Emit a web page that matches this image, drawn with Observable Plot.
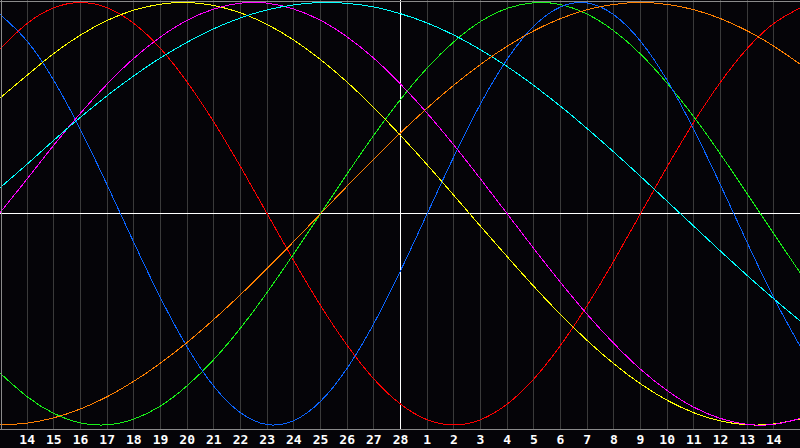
<!DOCTYPE html>
<html>
<head>
<meta charset="utf-8">
<script src="https://cdn.jsdelivr.net/npm/d3@7"></script>
<script src="https://cdn.jsdelivr.net/npm/@observablehq/plot@0.6"></script>
<style>
  html, body { margin: 0; padding: 0; background: #050408; }
  svg { display: block; }
</style>
</head>
<body>
<div id="chart"></div>
<script>
// Day index 0..30 across the chart, with calendar day labels
const days = [0,1,2,3,4,5,6,7,8,9,10,11,12,13,14,15,16,17,18,19,20,21,22,23,24,25,26,27,28,29,30];
const dayLabels = ["13","14","15","16","17","18","19","20","21","22","23","24","25","26","27","28",
                   "1","2","3","4","5","6","7","8","9","10","11","12","13","14","15"];
const todayIndex = 15;

// Series values (one per day)
const emotionalValues = [0.782,0.901,0.975,1.000,0.975,0.901,0.782,0.623,0.434,0.223,0,-0.223,-0.434,-0.623,-0.782,-0.901,
  -0.975,-1.000,-0.975,-0.901,-0.782,-0.623,-0.434,-0.223,0,0.223,0.434,0.623,0.782,0.901,0.975];
const intellectualValues = [-0.756,-0.866,-0.945,-0.990,-0.999,-0.972,-0.910,-0.814,-0.690,-0.541,-0.372,-0.189,0,0.189,0.372,0.541,
  0.690,0.814,0.910,0.972,0.999,0.990,0.945,0.866,0.756,0.618,0.459,0.282,0.095,-0.095,-0.282];
const physicalValues = [0.942,0.817,0.631,0.398,0.136,-0.136,-0.398,-0.631,-0.817,-0.942,-0.998,-0.979,-0.888,-0.731,-0.520,-0.270,
  0,0.270,0.520,0.731,0.888,0.979,0.998,0.942,0.817,0.631,0.398,0.136,-0.136,-0.398,-0.631];
const aestheticValues = [0.550,0.656,0.759,0.846,0.915,0.964,0.992,1.000,0.986,0.951,0.896,0.822,0.730,0.623,0.502,0.371,
  0.232,0.087,-0.059,-0.203,-0.344,-0.477,-0.600,-0.710,-0.805,-0.883,-0.942,-0.981,-0.999,-0.995,-0.971];
const intuitiveValues = [0.008,0.165,0.325,0.476,0.614,0.736,0.837,0.916,0.969,0.997,0.997,0.969,0.916,0.837,0.736,0.614,
  0.476,0.325,0.165,0,-0.165,-0.325,-0.476,-0.614,-0.736,-0.837,-0.916,-0.969,-0.997,-0.997,-0.969];
const spiritualValues = [0.125,0.235,0.348,0.457,0.559,0.653,0.738,0.812,0.876,0.927,0.965,0.989,1.000,0.996,0.979,0.947,
  0.903,0.846,0.776,0.697,0.607,0.509,0.403,0.292,0.177,0.059,-0.059,-0.177,-0.292,-0.403,-0.509];
const awarenessValues = [-1,-0.991,-0.966,-0.924,-0.866,-0.793,-0.707,-0.609,-0.5,-0.383,-0.259,-0.131,0,0.131,0.259,0.383,
  0.5,0.609,0.707,0.793,0.866,0.924,0.966,0.991,1,0.991,0.966,0.924,0.866,0.793,0.707];

const seriesNames = ["emotional","intellectual","physical","aesthetic","intuitive","spiritual","awareness"];
const seriesColors = ["#ff0000","#18f018","#0a64ff","#ffff00","#ff00ff","#00ffff","#ff8000"];
const seriesValues = [emotionalValues, intellectualValues, physicalValues, aestheticValues, intuitiveValues, spiritualValues, awarenessValues];

const rows = seriesNames.flatMap((name, k) =>
  seriesValues[k].map((v, i) => ({ t: days[i], v, name })));

const gridDays = days.slice(1, 30);
const yTop = 1.0095, yBottom = -1.0213;

const chart = Plot.plot({
  width: 800,
  height: 448,
  marginTop: 0,
  marginLeft: 0,
  marginRight: 0,
  marginBottom: 19,
  style: {
    background: "#050408",
    color: "#ffffff",
    fontFamily: "'DejaVu Sans Mono', monospace",
    fontSize: "13px",
    fontWeight: "bold"
  },
  x: {
    domain: [days[0], days[days.length - 1]],
    ticks: gridDays,
    tickFormat: (d) => dayLabels[d],
    tickSize: 0,
    tickPadding: 5,
    label: null
  },
  y: { domain: [yBottom, yTop], axis: null },
  color: { domain: seriesNames, range: seriesColors },
  marks: [
    Plot.ruleX(gridDays.filter((d) => d !== todayIndex), { stroke: "#3a3a3a", strokeWidth: 1, y1: yBottom, y2: yTop, shapeRendering: "crispEdges" }),
    Plot.ruleX([todayIndex], { stroke: "#ffffff", strokeWidth: 1, y1: yBottom, y2: yTop, shapeRendering: "crispEdges" }),
    Plot.ruleY([0], { stroke: "#ffffff", strokeWidth: 1, shapeRendering: "crispEdges" }),
    Plot.line(rows, { x: "t", y: "v", z: "name", stroke: "name", strokeWidth: 1, curve: "natural", shapeRendering: "crispEdges" }),
    Plot.ruleY([yTop], { stroke: "#8a8a8a", strokeWidth: 1, dy: 0.5, shapeRendering: "crispEdges" }),
    Plot.ruleY([yBottom], { stroke: "#8a8a8a", strokeWidth: 1, dy: -0.5, shapeRendering: "crispEdges" }),
    Plot.ruleX([days[0]], { stroke: "#8a8a8a", strokeWidth: 1, dx: 0.5, y1: yBottom, y2: yTop, shapeRendering: "crispEdges" })
  ]
});

document.getElementById("chart").appendChild(chart);
</script>
</body>
</html>
